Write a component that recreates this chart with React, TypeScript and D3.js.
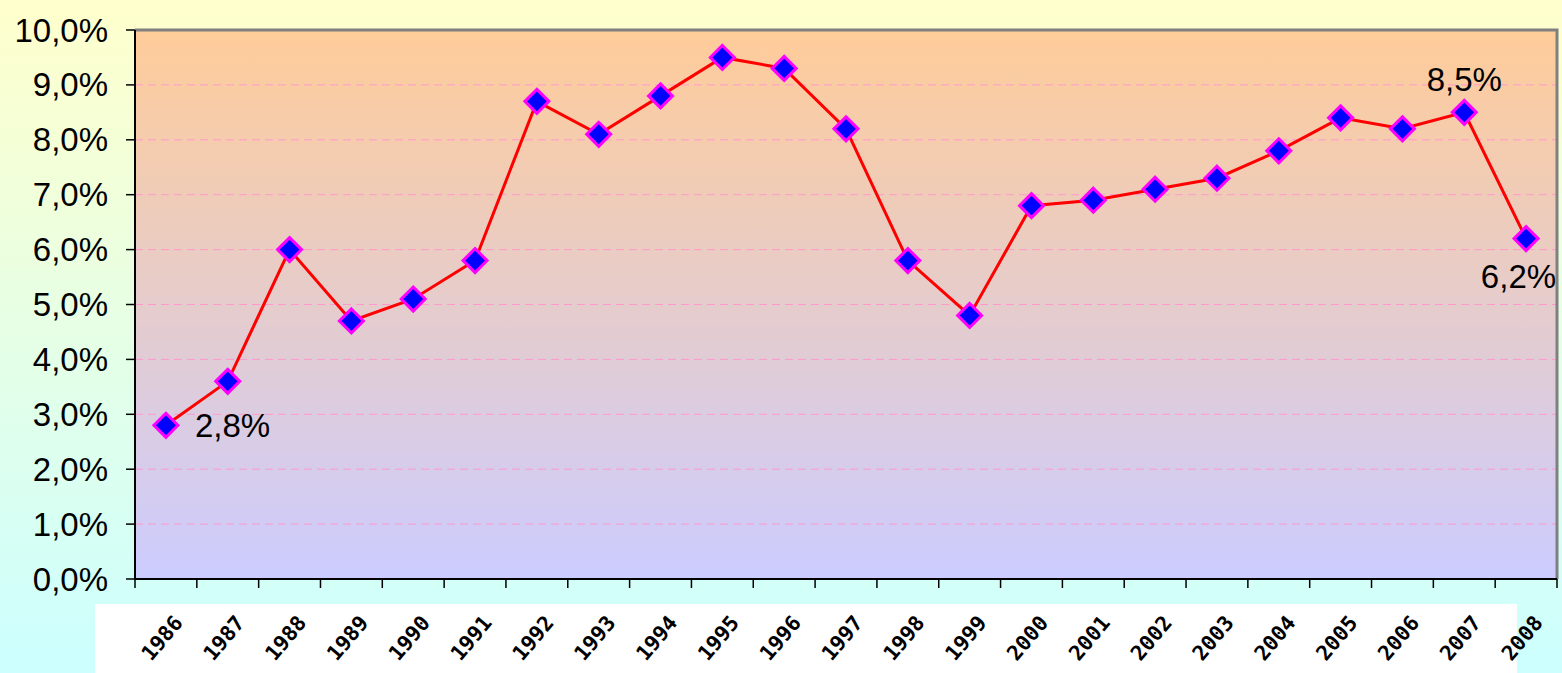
import React, { useEffect, useRef } from 'react'
import * as d3 from 'd3'

const years = [
  '1986', '1987', '1988', '1989', '1990', '1991', '1992', '1993', '1994', '1995', '1996', '1997',
  '1998', '1999', '2000', '2001', '2002', '2003', '2004', '2005', '2006', '2007', '2008',
]
const rates = [
  2.8, 3.6, 6.0, 4.7, 5.1, 5.8, 8.7, 8.1, 8.8, 9.5, 9.3, 8.2,
  5.8, 4.8, 6.8, 6.9, 7.1, 7.3, 7.8, 8.4, 8.2, 8.5, 6.2,
]
const yTicks = [0, 1, 2, 3, 4, 5, 6, 7, 8, 9, 10]
// which points carry a value label, and where it sits
const labelled: { i: number; pos: 'right' | 'above' | 'below' }[] = [
  { i: 0, pos: 'right' },
  { i: 21, pos: 'above' },
  { i: 22, pos: 'below' },
]

const W = 1562
const H = 673
const margin = { top: 30, right: 5, bottom: 94, left: 135 }

const fmt = (v: number) => v.toFixed(1).replace('.', ',') + '%'

const App: React.FC = () => {
  const svgRef = useRef<SVGSVGElement | null>(null)

  useEffect(() => {
    if (!svgRef.current) return
    const svg = d3.select(svgRef.current)
    svg.selectAll('*').remove()

    const x = d3
      .scaleBand()
      .domain(years)
      .range([margin.left, W - margin.right])
    const y = d3
      .scaleLinear()
      .domain([0, 10])
      .range([H - margin.bottom, margin.top])

    const defs = svg.append('defs')
    const bg = defs.append('linearGradient').attr('id', 'bg').attr('x1', 0).attr('y1', 0).attr('x2', 0).attr('y2', 1)
    bg.append('stop').attr('offset', '0%').attr('stop-color', '#ffffcc')
    bg.append('stop').attr('offset', '100%').attr('stop-color', '#ccffff')
    const pg = defs.append('linearGradient').attr('id', 'pg').attr('x1', 0).attr('y1', 0).attr('x2', 0).attr('y2', 1)
    pg.append('stop').attr('offset', '0%').attr('stop-color', '#ffcc99')
    pg.append('stop').attr('offset', '100%').attr('stop-color', '#ccccff')

    svg.append('rect').attr('width', W).attr('height', H).attr('fill', 'url(#bg)')

    const x0 = margin.left
    const x1 = W - margin.right
    const y0 = y(0)
    const y1 = y(10)

    svg.append('rect')
      .attr('x', x0).attr('y', y1)
      .attr('width', x1 - x0).attr('height', y0 - y1)
      .attr('fill', 'url(#pg)')

    // gridlines
    svg.append('g')
      .selectAll('line')
      .data(yTicks.filter((t) => t > 0 && t < 10))
      .join('line')
      .attr('x1', x0).attr('x2', x1)
      .attr('y1', (d) => y(d)).attr('y2', (d) => y(d))
      .attr('stroke', '#ff99cc')
      .attr('stroke-width', 1)
      .attr('stroke-dasharray', '8,5')

    // grey frame top + right
    svg.append('path')
      .attr('d', `M${x0},${y1}H${x1}V${y0}`)
      .attr('fill', 'none')
      .attr('stroke', '#808080')
      .attr('stroke-width', 3)

    // y axis
    const yAxis = svg.append('g')
    yAxis.append('line')
      .attr('x1', x0).attr('x2', x0).attr('y1', y1).attr('y2', y0)
      .attr('stroke', '#000').attr('stroke-width', 2)
    yAxis.selectAll('line.tick')
      .data(yTicks)
      .join('line')
      .attr('class', 'tick')
      .attr('x1', x0 - 9).attr('x2', x0)
      .attr('y1', (d) => y(d)).attr('y2', (d) => y(d))
      .attr('stroke', '#000').attr('stroke-width', 1.5)
    yAxis.selectAll('text')
      .data(yTicks)
      .join('text')
      .attr('x', x0 - 27)
      .attr('y', (d) => y(d))
      .attr('dy', '0.35em')
      .attr('text-anchor', 'end')
      .attr('font-family', 'Liberation Sans, Arial, sans-serif')
      .attr('font-size', 33)
      .text((d) => fmt(d))

    // x axis
    const xAxis = svg.append('g')
    xAxis.append('line')
      .attr('x1', x0).attr('x2', x1).attr('y1', y0).attr('y2', y0)
      .attr('stroke', '#000').attr('stroke-width', 2)
    const bounds = years.map((d) => x(d)!).concat([x1])
    xAxis.selectAll('line.tick')
      .data(bounds)
      .join('line')
      .attr('class', 'tick')
      .attr('x1', (d) => d).attr('x2', (d) => d)
      .attr('y1', y0).attr('y2', y0 + 9)
      .attr('stroke', '#000').attr('stroke-width', 1.5)

    // white strip behind rotated year labels
    svg.append('rect')
      .attr('x', 95).attr('y', 604)
      .attr('width', 1422).attr('height', H - 604)
      .attr('fill', '#ffffff')

    svg.append('g')
      .selectAll('text')
      .data(years)
      .join('text')
      .attr('transform', (d) => `translate(${x(d)! + x.bandwidth() / 2 - 4},${638}) rotate(-50)`)
      .attr('text-anchor', 'middle')
      .attr('dy', '0.35em')
      .attr('font-family', 'DejaVu Sans Mono, monospace')
      .attr('font-weight', 'bold')
      .attr('font-size', 21)
      .text((d) => d)

    // line
    const cx = (i: number) => x(years[i])! + x.bandwidth() / 2
    const line = d3.line<number>()
      .x((_, i) => cx(i))
      .y((d) => y(d))
    svg.append('path')
      .datum(rates)
      .attr('d', line)
      .attr('fill', 'none')
      .attr('stroke', '#ff0000')
      .attr('stroke-width', 3)

    // diamond markers
    const r = 12
    svg.append('g')
      .selectAll('path')
      .data(rates)
      .join('path')
      .attr('d', (d, i) => {
        const px = cx(i)
        const py = y(d)
        return `M${px},${py - r}L${px + r},${py}L${px},${py + r}L${px - r},${py}Z`
      })
      .attr('fill', '#0000ff')
      .attr('stroke', '#ff00ff')
      .attr('stroke-width', 3)

    // data labels
    svg.append('g')
      .selectAll('text')
      .data(labelled)
      .join('text')
      .attr('x', (d) => (d.pos === 'right' ? cx(d.i) + 29 : d.pos === 'below' ? cx(d.i) + 30 : cx(d.i)))
      .attr('y', (d) =>
        d.pos === 'right' ? y(rates[d.i]) : d.pos === 'above' ? y(rates[d.i]) - 33 : y(rates[d.i]) + 38
      )
      .attr('dy', '0.35em')
      .attr('text-anchor', (d) => (d.pos === 'right' ? 'start' : d.pos === 'below' ? 'end' : 'middle'))
      .attr('font-family', 'Liberation Sans, Arial, sans-serif')
      .attr('font-size', 33)
      .text((d) => fmt(rates[d.i]))
  }, [])

  return <svg ref={svgRef} width={W} height={H} style={{ display: 'block', position: 'absolute', left: 0, top: 0 }}></svg>
}

export default App
